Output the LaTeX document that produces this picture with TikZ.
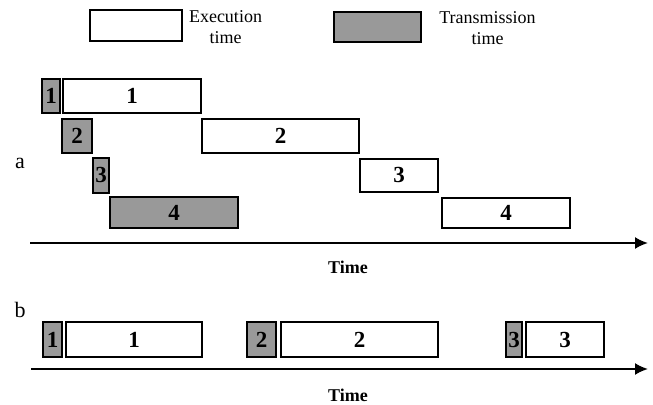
\documentclass[tikz,border=0pt]{standalone}
\usepackage{fontspec}
\setmainfont{Liberation Serif}
\usepackage{tikz}
\usetikzlibrary{arrows.meta}
\tikzstyle{every node}=[inner sep=0pt,outer sep=0pt]
\tikzstyle{exec}=[draw=black,line width=1pt,fill=white,minimum height=17pt,font=\fontsize{11.5}{12}\selectfont\bfseries]
\tikzstyle{trans}=[exec,fill=black!40]
\tikzstyle{legend}=[align=center,font=\fontsize{9}{10.5}\selectfont]
\tikzstyle{axis}=[line width=1pt,-{Latex[length=6.5pt,width=6pt]}]
\tikzstyle{timelabel}=[font=\fontsize{9}{10}\selectfont\bfseries]
\tikzstyle{part}=[font=\fontsize{11}{12}\selectfont]

\begin{document}
\begin{tikzpicture}[x=0.5pt,y=-0.5pt]
  \useasboundingbox (0,0) rectangle (653,405);
  \node [exec,minimum width=46pt,minimum height=15.5pt] (lexec) at (136,25.5) {};
  \node [legend] (lexectext) at (225.5,27.5) {Execution\\time};
  \node [trans,minimum width=43.5pt,minimum height=15pt] (ltrans) at (377.5,27) {};
  \node [legend] (ltranstext) at (487.5,28) {Transmission\\time};

  \node [part] (a) at (20,163) {a};
  \node [trans,minimum width=9pt] (ta1) at (51,96) {1};
  \node [exec,minimum width=69pt] (ea1) at (132,96) {1};
  \node [trans,minimum width=15pt] (ta2) at (77,136) {2};
  \node [exec,minimum width=78.5pt] (ea2) at (280.5,136) {2};
  \node [trans,minimum width=8pt,minimum height=17.5pt] (ta3) at (101,175.5) {3};
  \node [exec,minimum width=39pt,minimum height=16.5pt] (ea3) at (399,175.5) {3};
  \node [trans,minimum width=64pt,minimum height=15.5pt] (ta4) at (174,212.5) {4};
  \node [exec,minimum width=64pt,minimum height=15pt] (ea4) at (506,213) {4};
  \coordinate (astart) at (30,243);
  \coordinate (aend) at (648,243);
  \draw [axis] (astart) -- (aend);
  \node [timelabel] (timea) at (348,267) {Time};

  \node [part] (b) at (20,310) {b};
  \node [trans,minimum width=9.5pt,minimum height=17.5pt] (tb1) at (52.5,339.5) {1};
  \node [exec,minimum width=68pt,minimum height=17.5pt] (eb1) at (134,339.5) {1};
  \node [trans,minimum width=14.5pt,minimum height=17.5pt] (tb2) at (261.5,339.5) {2};
  \node [exec,minimum width=78.5pt,minimum height=17.5pt] (eb2) at (359.5,339.5) {2};
  \node [trans,minimum width=8pt,minimum height=17.5pt] (tb3) at (514,339.5) {3};
  \node [exec,minimum width=39pt,minimum height=17.5pt] (eb3) at (565,339.5) {3};
  \coordinate (bstart) at (31,369);
  \coordinate (bend) at (648,369);
  \draw [axis] (bstart) -- (bend);
  \node [timelabel] (timeb) at (348,395) {Time};
\end{tikzpicture}
\end{document}
